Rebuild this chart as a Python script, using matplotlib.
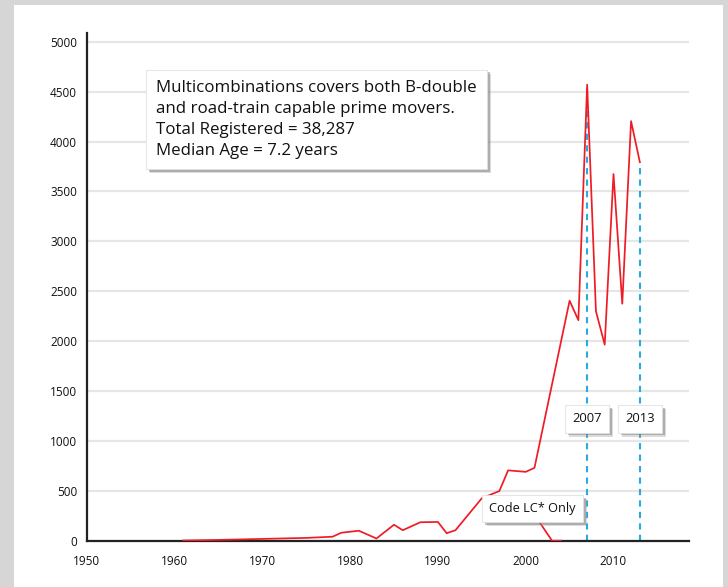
import matplotlib
matplotlib.use("Agg")
import matplotlib.pyplot as plt
import matplotlib.patheffects as pe
from matplotlib.patches import Rectangle

plt.rcParams['font.family'] = ['Open Sans', 'DejaVu Sans']

# multicombination prime movers by year of manufacture
years = [1961, 1965, 1970, 1975, 1978, 1979, 1981, 1983, 1985, 1986, 1988, 1990,
         1991, 1992, 1995, 1997, 1998, 2000, 2001, 2005, 2006, 2007, 2008, 2009,
         2010, 2011, 2012, 2013]
counts = [2, 8, 18, 28, 40, 80, 100, 22, 160, 105, 185, 188,
          75, 105, 425, 498, 705, 690, 730, 2405, 2210, 4570, 2300, 1965,
          3675, 2375, 4205, 3795]

# code LC* only series (start hidden behind its label)
lc_years = [2001, 2003, 2004]
lc_counts = [260, 0, 0]

marker_years = [2007, 2013]
marker_tops = [4570, 3795]

info = ("Multicombinations covers both B-double\n"
        "and road-train capable prime movers.\n"
        "Total Registered = 38,287\n"
        "Median Age = 7.2 years")

fig = plt.figure(figsize=(7.28, 5.87), dpi=100, facecolor='#d6d6d6')
fig.patches.append(Rectangle((14 / 728, 0), 709 / 728, 1 - 5 / 587,
                             transform=fig.transFigure, facecolor='white',
                             edgecolor='none', zorder=-10))
ax = fig.add_axes([86.7 / 728, 1 - 540.7 / 587, (689 - 86.7) / 728, (540.7 - 33.3) / 587])
ax.set_zorder(1)
ax.set_facecolor('none')

ax.set_xlim(1950, 2018.6)
ax.set_ylim(0, 5085)
ax.set_yticks(range(0, 5001, 500))
ax.set_xticks(range(1950, 2011, 10))
ax.grid(axis='y', color='#e6e6e6', linewidth=1.6)
ax.set_axisbelow(True)
for s in ['top', 'right']:
    ax.spines[s].set_visible(False)
for s in ['left', 'bottom']:
    ax.spines[s].set_linewidth(1.6)
    ax.spines[s].set_color('#222222')
ax.tick_params(length=0, labelsize=8.5, labelcolor='#111111', pad=7)
ax.tick_params(axis='x', pad=10)

ax.vlines(marker_years, 0, marker_tops, colors='#29abe2', linestyles=(0, (3, 2.5)),
          linewidth=1.5, zorder=2)
ax.plot(years, counts, color='#ee1c25', linewidth=1.25, zorder=3)
ax.plot(lc_years, lc_counts, color='#ee1c25', linewidth=1.25, zorder=3)

shadow = [pe.SimplePatchShadow(offset=(3, -3), shadow_rgbFace='#999999', alpha=0.35),
          pe.SimplePatchShadow(offset=(2, -2), shadow_rgbFace='#777777', alpha=0.45),
          pe.Normal()]


def label_box(x, y, text, size, ha='center', va='center', pad=0.45, ls=1.3):
    t = ax.text(x, y, text, fontsize=size, ha=ha, va=va, zorder=5,
                linespacing=ls, color='#111111',
                bbox=dict(boxstyle='square,pad=%s' % pad, facecolor='white',
                          edgecolor='#e0e0e0', linewidth=0.6))
    t.get_bbox_patch().set_path_effects(shadow)
    return t


label_box(1957.9, 4620, info, 12.2, ha='left', va='top', pad=0.6, ls=1.42)
label_box(2000.8, 325, "Code LC* Only", 9.2, pad=0.55)
for yr in marker_years:
    label_box(yr, 1220, str(yr), 9.4, pad=0.55)

fig.savefig('out.png', dpi=100, facecolor=fig.get_facecolor())
